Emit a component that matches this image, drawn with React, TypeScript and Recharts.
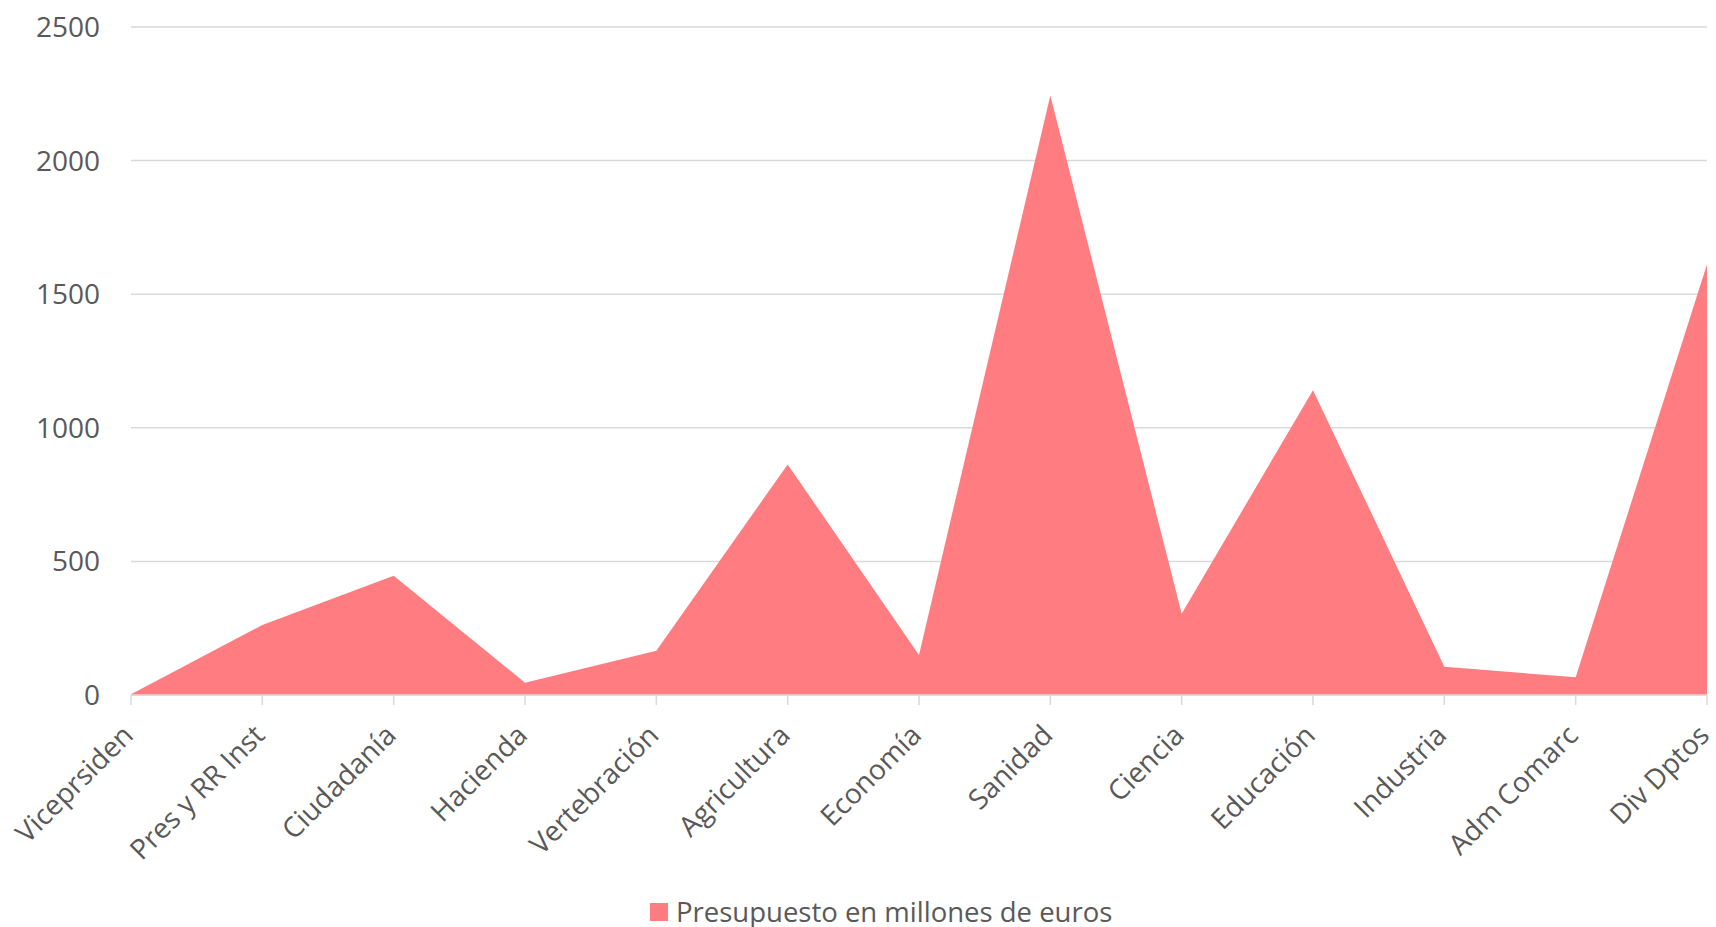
import React from 'react';
import { AreaChart, Area, XAxis, YAxis, CartesianGrid, Legend } from 'recharts';

// Presupuesto por departamento (millones de euros)
const departments = [
  'Viceprsiden', 'Pres y RR Inst', 'Ciudadanía', 'Hacienda', 'Vertebración', 'Agricultura',
  'Economía', 'Sanidad', 'Ciencia', 'Educación', 'Industria', 'Adm Comarc', 'Div Dptos',
];
const budget = [3, 262, 446, 46, 166, 863, 150, 2244, 304, 1141, 106, 66, 1612];
const yTicks = [0, 500, 1000, 1500, 2000, 2500];
const seriesName = 'Presupuesto en millones de euros';

const FILL = '#FF7C80';
const TEXT = '#595959';
const GRID = '#D9D9D9';
const FONT = '"Open Sans", sans-serif';

const chartData = departments.map((name, i) => ({ name, value: budget[i] }));

function AngledTick({ x, y, payload }: any) {
  return (
    <g transform={`translate(${x + 4},${y + 30})`}>
      <text transform="rotate(-45)" textAnchor="end" fill={TEXT} fontSize={28} fontFamily={FONT}>
        {payload.value}
      </text>
    </g>
  );
}

function LegendBox() {
  return (
    <div style={{ display: 'flex', alignItems: 'center', height: 30, lineHeight: '30px', fontFamily: FONT, fontSize: 27.5, color: TEXT }}>
      <span style={{ width: 18, height: 18, background: FILL, marginRight: 8, display: 'inline-block' }} />
      <span>{seriesName}</span>
    </div>
  );
}

export default function App() {
  // pinned to the page corner so the body margin can't push it into a scrollbar
  return (
    <div style={{ position: 'absolute', left: 0, top: 0, width: 1716, height: 927, background: '#fff' }}>
      <AreaChart width={1716} height={927} data={chartData} margin={{ top: 27, right: 9, left: 0, bottom: 102 }}>
        <CartesianGrid vertical={false} stroke={GRID} strokeWidth={1.5} />
        <XAxis
          dataKey="name"
          interval={0}
          height={100}
          tick={<AngledTick />}
          tickSize={10}
          axisLine={{ stroke: GRID, strokeWidth: 1.5 }}
          tickLine={{ stroke: GRID, strokeWidth: 1.5 }}
        />
        <YAxis
          width={131}
          domain={[0, 2500]}
          ticks={yTicks}
          axisLine={false}
          tickLine={false}
          tickSize={0}
          tickMargin={31}
          tick={{ fill: TEXT, fontSize: 28, fontFamily: FONT }}
        />
        <Legend
          verticalAlign="bottom"
          content={<LegendBox />}
          wrapperStyle={{ position: 'absolute', top: 897, left: 650, width: 'auto' }}
        />
        <Area
          type="linear"
          dataKey="value"
          name={seriesName}
          stroke="none"
          fill={FILL}
          fillOpacity={1}
          isAnimationActive={false}
        />
      </AreaChart>
    </div>
  );
}
